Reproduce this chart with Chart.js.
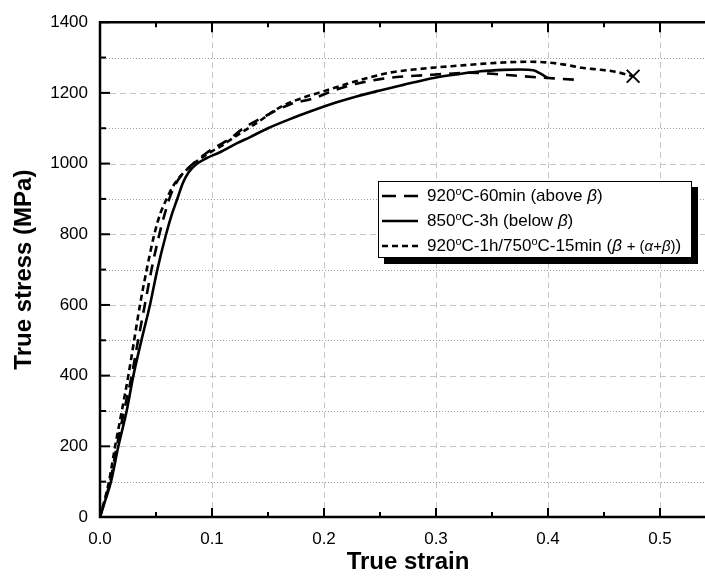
<!DOCTYPE html>
<html>
<head>
<meta charset="utf-8">
<script src="https://cdn.jsdelivr.net/npm/chart.js@4.4.1/dist/chart.umd.min.js"></script>
<style>
  html, body { margin: 0; padding: 0; background: #fff; overflow: hidden; }
  #wrap { position: relative; width: 705px; height: 577px; overflow: hidden; }
  #chart { position: absolute; left: 0; top: 0; }
  #legend {
    position: absolute; left: 378px; top: 181px; width: 314px; height: 77px;
    box-sizing: border-box; border: 1px solid #000; background: #fff;
    box-shadow: 6px 6px 0 #000; padding-top: 1px;
    font-family: "Liberation Sans", Arial, sans-serif; font-size: 17px; color: #000;
  }
  #legend .row { height: 25.3px; display: flex; align-items: center; padding-left: 3px; white-space: nowrap; }
  #legend svg { margin-right: 9px; flex: none; }
  #legend sup { font-size: 11px; vertical-align: 6px; line-height: 0; }
  #legend small { font-size: 15px; }
</style>
</head>
<body>
<div id="wrap">
  <canvas id="chart" width="727" height="577"></canvas>
  <div id="legend"></div>
</div>
<script>
// 920°C-60min (above beta) - long dashes
const strainA = [0, 0.009, 0.015, 0.0215, 0.0283, 0.034, 0.040, 0.046, 0.053, 0.058, 0.063, 0.068, 0.075, 0.085, 0.095, 0.105, 0.115, 0.128, 0.145, 0.17, 0.19, 0.21, 0.229, 0.25, 0.265, 0.29, 0.31, 0.33, 0.35, 0.37, 0.39, 0.405, 0.425];
const stressA = [0, 100, 200, 300, 400, 500, 600, 700, 800, 860, 910, 945, 975, 1005, 1030, 1050, 1068, 1100, 1130, 1168, 1184, 1208, 1226, 1239, 1245, 1250, 1254, 1257, 1254, 1249, 1244, 1241, 1237];

// 850°C-3h (below beta) - solid
const strainB = [0, 0.005, 0.0098, 0.0164, 0.0238, 0.0298, 0.037, 0.0446, 0.0512, 0.059, 0.064, 0.069, 0.074, 0.079, 0.086, 0.095, 0.107, 0.122, 0.134, 0.15, 0.169, 0.19, 0.21, 0.229, 0.25, 0.27, 0.299, 0.32, 0.34, 0.36, 0.375, 0.387, 0.393, 0.40];
const stressB = [0, 50, 100, 200, 300, 400, 500, 600, 700, 800, 855, 900, 945, 975, 998, 1015, 1032, 1057, 1075, 1100, 1125, 1150, 1172, 1190, 1207, 1222, 1243, 1253, 1261, 1265, 1266, 1264, 1255, 1241];

// 920°C-1h/750°C-15min - short dashes
const strainC = [0, 0.008, 0.0135, 0.0195, 0.0253, 0.0305, 0.0357, 0.0417, 0.0485, 0.054, 0.0595, 0.065, 0.072, 0.08, 0.09, 0.10, 0.107, 0.12, 0.14, 0.161, 0.18, 0.20, 0.22, 0.24, 0.26, 0.28, 0.30, 0.32, 0.34, 0.36, 0.38, 0.40, 0.415, 0.43, 0.445, 0.46, 0.476];
const stressC = [0, 100, 200, 300, 400, 500, 600, 700, 800, 860, 900, 935, 965, 990, 1015, 1035, 1047, 1075, 1115, 1160, 1185, 1205, 1225, 1243, 1258, 1266, 1272, 1277, 1282, 1286, 1288, 1286, 1280, 1271, 1266, 1260, 1247];

// fracture point marked with a cross
const fractureStrain = [0.476];
const fractureStress = [1247];

const seriesLabels = [
  "920<sup>o</sup>C-60min (above <i>β</i>)",
  "850<sup>o</sup>C-3h (below <i>β</i>)",
  "920<sup>o</sup>C-1h/750<sup>o</sup>C-15min (<i>β</i> <small>+ (<i>α</i>+<i>β</i>)</small>)"
];
const seriesDash = [[11, 8], [], [6, 4]];
const legendDash = ["14 8", "", "6 4"];

const xMajor = [0, 0.1, 0.2, 0.3, 0.4, 0.5];
const xMinor = [0.05, 0.15, 0.25, 0.35, 0.45, 0.55];
const yMajor = [0, 200, 400, 600, 800, 1000, 1200, 1400];
const yMinor = [100, 300, 500, 700, 900, 1100, 1300];

const FONT = '"Liberation Sans", Arial, sans-serif';

function toPoints(xs, ys) {
  return xs.map((v, i) => ({x: v, y: ys[i]}));
}

// legend (html so the superscripts / greek letters stay real text)
const legend = document.getElementById("legend");
seriesLabels.forEach((txt, i) => {
  const row = document.createElement("div");
  row.className = "row";
  const dash = legendDash[i] ? ` stroke-dasharray="${legendDash[i]}"` : "";
  row.innerHTML = `<svg width="36" height="6"><line x1="0" y1="3" x2="36" y2="3" stroke="#000" stroke-width="2.5"${dash}/></svg><span>${txt}</span>`;
  legend.appendChild(row);
});

const frameAndGrid = {
  id: "frameAndGrid",
  beforeDatasetsDraw(chart) {
    const {ctx, chartArea: a, scales: {x, y}} = chart;
    ctx.save();
    ctx.lineWidth = 1;
    ctx.strokeStyle = "#c6c6c6";
    ctx.setLineDash([6, 4]);
    xMajor.slice(1).forEach(v => {
      const px = Math.round(x.getPixelForValue(v)) + 0.5;
      ctx.beginPath(); ctx.moveTo(px, a.top); ctx.lineTo(px, a.bottom); ctx.stroke();
    });
    yMajor.slice(1).forEach(v => {
      const py = Math.round(y.getPixelForValue(v)) + 0.5;
      ctx.beginPath(); ctx.moveTo(a.left, py); ctx.lineTo(a.right, py); ctx.stroke();
    });
    ctx.strokeStyle = "#9c9c9c";
    ctx.setLineDash([1, 2]);
    yMinor.forEach(v => {
      const py = Math.round(y.getPixelForValue(v)) + 0.5;
      ctx.beginPath(); ctx.moveTo(a.left, py); ctx.lineTo(a.right, py); ctx.stroke();
    });
    ctx.restore();
  },
  afterDatasetsDraw(chart) {
    const {ctx, chartArea: a, scales: {x, y}} = chart;
    ctx.save();
    ctx.strokeStyle = "#000";
    ctx.lineWidth = 2.5;
    ctx.setLineDash([]);
    ctx.beginPath();
    ctx.moveTo(a.right + 20, a.top); ctx.lineTo(a.left, a.top);
    ctx.lineTo(a.left, a.bottom); ctx.lineTo(a.right + 20, a.bottom);
    ctx.stroke();
    ctx.lineWidth = 2;
    const tick = (x1, y1, x2, y2) => { ctx.beginPath(); ctx.moveTo(x1, y1); ctx.lineTo(x2, y2); ctx.stroke(); };
    xMajor.forEach(v => {
      const px = x.getPixelForValue(v);
      tick(px, a.bottom, px, a.bottom - 9);
      tick(px, a.top, px, a.top + 10);
    });
    xMinor.forEach(v => {
      const px = x.getPixelForValue(v);
      tick(px, a.bottom, px, a.bottom - 5);
      tick(px, a.top, px, a.top + 5);
    });
    yMajor.forEach(v => {
      const py = y.getPixelForValue(v);
      tick(a.left, py, a.left + 10, py);
    });
    yMinor.forEach(v => {
      const py = y.getPixelForValue(v);
      tick(a.left, py, a.left + 6, py);
    });
    ctx.restore();
  }
};

const ctx = document.getElementById("chart").getContext("2d");
new Chart(ctx, {
  type: "scatter",
  data: {
    datasets: [
      {label: "920°C-60min (above β)", data: toPoints(strainA, stressA), borderDash: seriesDash[0]},
      {label: "850°C-3h (below β)", data: toPoints(strainB, stressB), borderDash: seriesDash[1]},
      {label: "920°C-1h/750°C-15min (β + (α+β))", data: toPoints(strainC, stressC), borderDash: seriesDash[2]},
      {
        label: "fracture", data: toPoints(fractureStrain, fractureStress), showLine: false,
        pointStyle: "crossRot", pointRadius: 9, borderWidth: 2, borderColor: "#000", borderDash: []
      }
    ].map((d, i) => i < 3 ? Object.assign({
      showLine: true, borderColor: "#000", borderWidth: 2.6, pointRadius: 0,
      cubicInterpolationMode: "monotone", fill: false
    }, d) : d)
  },
  options: {
    responsive: false,
    animation: false,
    devicePixelRatio: 1,
    layout: {padding: {top: 22, right: 0, left: 0, bottom: 0}},
    plugins: {legend: {display: false}, tooltip: {enabled: false}},
    scales: {
      x: {
        type: "linear", min: 0, max: 0.55,
        afterBuildTicks: s => { s.ticks = xMajor.map(v => ({value: v})); },
        afterFit: s => { s.height = 60; },
        grid: {display: false, drawTicks: false},
        border: {display: false},
        ticks: {
          padding: 12, color: "#000", font: {family: FONT, size: 17},
          callback: v => Number(v).toFixed(1), maxRotation: 0
        },
        title: {display: true, text: "True strain", color: "#000", padding: {top: 0, bottom: 0},
          font: {family: FONT, size: 24, weight: "bold"}}
      },
      y: {
        type: "linear", min: 0, max: 1400,
        afterBuildTicks: s => { s.ticks = yMajor.map(v => ({value: v})); },
        afterFit: s => { s.width = 100; },
        grid: {display: false, drawTicks: false},
        border: {display: false},
        ticks: {padding: 12, color: "#000", font: {family: FONT, size: 17}, callback: v => String(v)},
        title: {display: true, text: "True stress (MPa)", color: "#000", padding: {top: 10, bottom: 0},
          font: {family: FONT, size: 24, weight: "bold"}}
      }
    }
  },
  plugins: [frameAndGrid]
});
</script>
</body>
</html>
